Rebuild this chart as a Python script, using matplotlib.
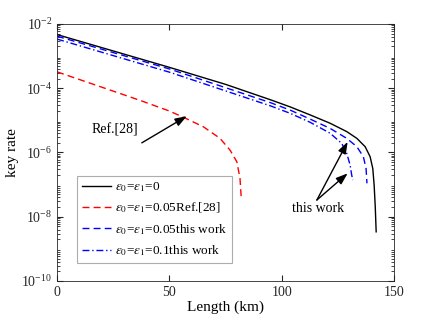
import matplotlib
matplotlib.use("Agg")
import matplotlib.pyplot as plt
import numpy as np

plt.rcParams['font.family'] = ['Liberation Serif', 'DejaVu Serif']
plt.rcParams['mathtext.fontset'] = 'stix'

# Data (distance in km, log10 of key rate)
L_black = [0, 25, 50, 75, 95, 103.7, 112.6, 121.5, 128.9, 133.4, 137.1, 139.3, 140.5, 141.1, 141.6, 142]
lg_black = [-2.33, -2.84, -3.35, -3.88, -4.36, -4.58, -4.83, -5.09, -5.35, -5.56, -5.82, -6.13, -6.50, -7.02, -7.7, -8.47]

L_red = [0, 20, 37, 50, 57, 65.1, 72.5, 77, 80, 81.4, 81.9]
lg_red = [-3.49, -3.97, -4.38, -4.71, -4.93, -5.20, -5.56, -5.93, -6.29, -6.81, -7.36]

L_blue = [0, 50, 95, 103.7, 112.6, 121.5, 128.9, 133.4, 136.3, 137.5, 137.9]
lg_blue = [-2.38, -3.40, -4.45, -4.68, -4.96, -5.25, -5.56, -5.82, -6.13, -6.50, -6.96]

L_bdd = [0, 50, 95, 103.7, 112.6, 121.5, 126.7, 128.9, 130.4, 131.1, 131.6]
lg_bdd = [-2.47, -3.50, -4.55, -4.78, -5.06, -5.40, -5.72, -6.03, -6.39, -6.70, -6.86]

labels = [r'$\epsilon_0$=$\epsilon_1$=0',
          r'$\epsilon_0$=$\epsilon_1$=0.05Ref.[28]',
          r'$\epsilon_0$=$\epsilon_1$=0.05this work',
          r'$\epsilon_0$=$\epsilon_1$=0.1this work']

fig = plt.figure(figsize=(4.36, 3.2), dpi=100)
ax = fig.add_axes([0.131, 0.122, 0.773, 0.803])

ax.semilogy(L_black, 10**np.array(lg_black), color='black', lw=1.0, ls='-', label=labels[0])
ax.semilogy(L_red, 10**np.array(lg_red), color='red', lw=1.0, ls=(0, (5, 3)), label=labels[1])
ax.semilogy(L_blue, 10**np.array(lg_blue), color='blue', lw=1.0, ls=(0, (5, 3)), label=labels[2])
ax.semilogy(L_bdd, 10**np.array(lg_bdd), color='blue', lw=1.0, ls=(0, (5, 2, 1, 2)), label=labels[3])

ax.set_xlim(0, 150)
ax.set_ylim(1e-10, 1e-2)
ax.set_xticks([0, 50, 100, 150])
ax.set_yticks([1e-10, 1e-8, 1e-6, 1e-4, 1e-2])
ax.yaxis.set_minor_locator(matplotlib.ticker.LogLocator(base=10, subs=np.arange(2, 10)))
ax.yaxis.set_minor_formatter(matplotlib.ticker.NullFormatter())
ax.tick_params(which='both', direction='in', top=True, right=True, labelsize=10, colors='#262626')
ax.tick_params(which='major', length=4)
ax.tick_params(which='minor', length=2)
for s in ax.spines.values():
    s.set_color('#262626')
    s.set_linewidth(0.6)

ax.set_xlabel('Length (km)', fontsize=11, labelpad=1)
ax.set_ylabel('key rate', fontsize=11, labelpad=2)

leg = ax.legend(loc='upper left', bbox_to_anchor=(0.06, 0.41), fontsize=9.5, frameon=True,
                fancybox=False, edgecolor='#999999', handlelength=2.2, handletextpad=0.3,
                borderpad=0.35, labelspacing=0.5, borderaxespad=0)
leg.get_frame().set_linewidth(0.8)

arrowprops = dict(arrowstyle='-|>,head_length=0.7,head_width=0.25', color='black', lw=1.0, shrinkA=0, shrinkB=0)
ax.annotate('', xy=(57.7, 10**-4.87), xytext=(37.7, 10**-5.70), arrowprops=arrowprops)
ax.text(25.5, 10**-5.3, 'Ref.[28]', fontsize=10, ha='center', va='center')
ax.annotate('', xy=(129.3, 10**-5.67), xytext=(115.6, 10**-7.48), arrowprops=arrowprops)
ax.annotate('', xy=(129.3, 10**-6.65), xytext=(115.6, 10**-7.48), arrowprops=arrowprops)
ax.text(116.3, 10**-7.75, 'this work', fontsize=10, ha='center', va='center')

fig.savefig('out.png', dpi=100)
